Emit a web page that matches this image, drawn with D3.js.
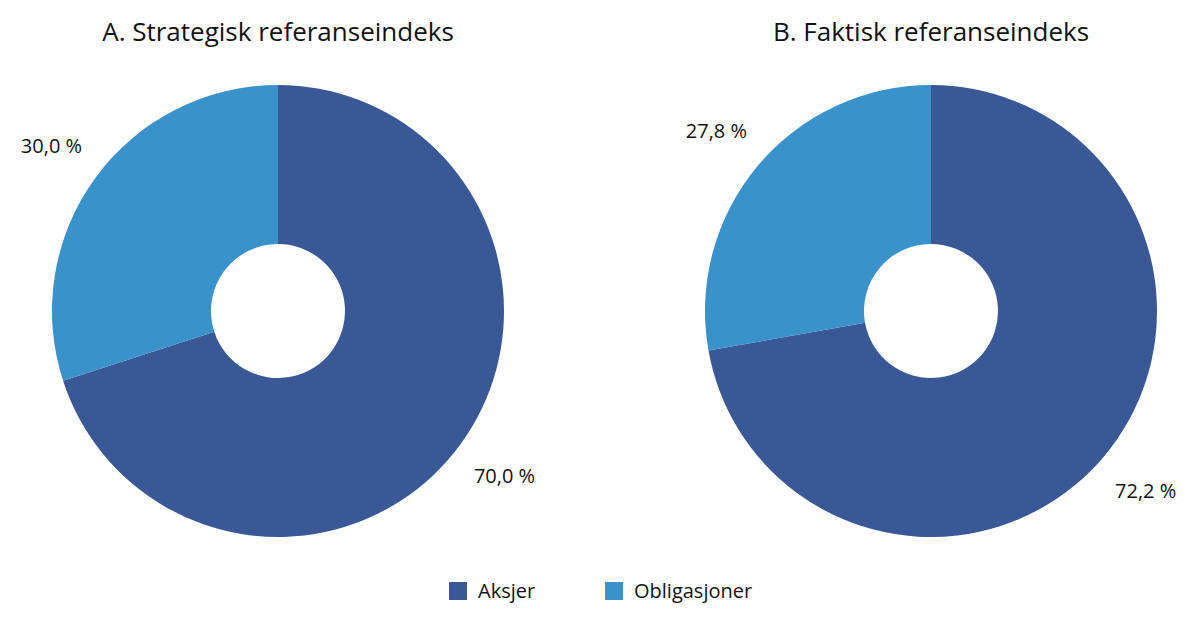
<!DOCTYPE html>
<html><head><meta charset="utf-8">
<script src="https://cdn.jsdelivr.net/npm/d3@7"></script>
<style>body{margin:0;background:#fff}text{font-family:"Open Sans","Noto Sans",sans-serif;fill:#111}</style>
</head><body><svg id="c" width="1200" height="622"></svg>
<script>
const categories = ["Aksjer","Obligasjoner"];
const titles = ["A.   Strategisk referanseindeks","B.   Faktisk referanseindeks"];
const valuesA = [70.0, 30.0];
const valuesB = [72.2, 27.8];
const colors = ["#3a5796","#3a92cb"];
const svg = d3.select("#c");
const color = d3.scaleOrdinal(categories, colors);
const pie = d3.pie().sort(null);
const arc = d3.arc().innerRadius(67).outerRadius(226);
const lab = d3.arc().innerRadius(280).outerRadius(280);
const fmt = v => v.toFixed(1).replace(".", ",") + " %";
[[valuesA,278,titles[0]],[valuesB,931,titles[1]]].forEach(([vals,cx,t])=>{
  const g = svg.append("g").attr("transform",`translate(${cx},311)`);
  const arcs = pie(vals);
  g.selectAll("path").data(arcs).join("path").attr("d",arc).attr("fill",(d,i)=>color(categories[i]));
  g.selectAll("text.l").data(arcs).join("text").attr("class","l")
    .attr("transform",d=>{const c=lab.centroid(d);return `translate(${c[0]},${c[1]})`;})
    .attr("text-anchor","middle").attr("dy","0.35em").attr("font-size",20).text(d=>fmt(d.data));
  svg.append("text").attr("x",cx).attr("y",41).attr("text-anchor","middle").attr("font-size",26).text(t);
});
const leg = svg.append("g");
const lx = [449,605];
categories.forEach((c,i)=>{
  leg.append("rect").attr("x",lx[i]).attr("y",582).attr("width",18).attr("height",18).attr("fill",color(c));
  leg.append("text").attr("x",lx[i]+29).attr("y",591).attr("dy","0.35em").attr("font-size",20).text(c);
});
</script></body></html>
